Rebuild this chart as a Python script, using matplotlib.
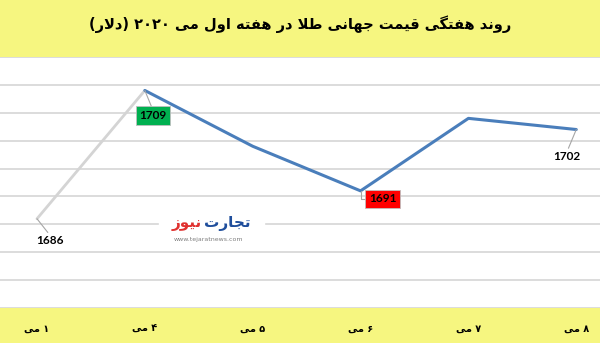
import re
import matplotlib
matplotlib.use("Agg")
import matplotlib.pyplot as plt

# ---- data ----
days = ["۱ می", "۴ می", "۵ می", "۶ می", "۷ می", "۸ می"]
prices = [1686, 1709, 1699, 1691, 1704, 1702]
title = "روند هفتگی قیمت جهانی طلا در هفته اول می ۲۰۲۰ (دلار)"
# label index -> (box colour or None, offset in px)
labels = {0: (None, (13, -22)), 1: ("#00b050", (8, -25)),
          3: ("#ff0000", (22, -8)), 5: (None, (-9, -27))}

YELLOW = "#f6f680"
BLUE = "#4a7ebb"
GREY_LINE = "#d4d4d4"
GRID = "#d9d9d9"

# ---- tiny persian shaper (matplotlib has no bidi / joining) ----
# isolated, final, initial, medial
FORMS = {
    "ا": ("\uFE8D", "\uFE8E", None, None),
    "د": ("\uFEA9", "\uFEAA", None, None),
    "ر": ("\uFEAD", "\uFEAE", None, None),
    "ز": ("\uFEAF", "\uFEB0", None, None),
    "و": ("\uFEED", "\uFEEE", None, None),
    "ن": ("\uFEE5", "\uFEE6", "\uFEE7", "\uFEE8"),
    "ه": ("\uFEE9", "\uFEEA", "\uFEEB", "\uFEEC"),
    "ف": ("\uFED1", "\uFED2", "\uFED3", "\uFED4"),
    "ت": ("\uFE95", "\uFE96", "\uFE97", "\uFE98"),
    "ق": ("\uFED5", "\uFED6", "\uFED7", "\uFED8"),
    "م": ("\uFEE1", "\uFEE2", "\uFEE3", "\uFEE4"),
    "ج": ("\uFE9D", "\uFE9E", "\uFE9F", "\uFEA0"),
    "ط": ("\uFEC1", "\uFEC2", "\uFEC3", "\uFEC4"),
    "ل": ("\uFEDD", "\uFEDE", "\uFEDF", "\uFEE0"),
    "ی": ("\uFBFC", "\uFBFD", "\uFBFE", "\uFBFF"),
    "گ": ("\uFB92", "\uFB93", "\uFB94", "\uFB95"),
}


def dual(c):
    return c in FORMS and FORMS[c][2] is not None


def shape(s):
    out = []
    i = 0
    while i < len(s):
        c = s[i]
        prev = s[i - 1] if i > 0 else ""
        joins_prev = dual(prev)
        if c == "ل" and i + 1 < len(s) and s[i + 1] == "ا":
            out.append("\uFEFC" if joins_prev else "\uFEFB")
            i += 2
            continue
        if c in FORMS:
            nxt = s[i + 1] if i + 1 < len(s) else ""
            joins_next = dual(c) and nxt in FORMS
            iso, fin, ini, med = FORMS[c]
            if joins_prev and joins_next:
                out.append(med)
            elif joins_prev:
                out.append(fin)
            elif joins_next:
                out.append(ini)
            else:
                out.append(iso)
        else:
            out.append(c)
        i += 1
    shaped = "".join(out)
    runs = re.findall(r"[0-9\u06F0-\u06F9]+|.", shaped)
    mirror = {"(": ")", ")": "("}
    return "".join(mirror.get(r, r) for r in reversed(runs))


plt.rcParams["font.family"] = ["DejaVu Sans"]

fig = plt.figure(figsize=(6, 3.43), dpi=100, facecolor=YELLOW)
ax = fig.add_axes([0, 35 / 343, 1, (308 - 57) / 343])
ax.set_facecolor("white")

x = list(range(len(prices)))
ax.set_xlim(-0.343, 5.22)
ax.set_ylim(1670, 1715)
ax.set_yticks(range(1670, 1716, 5))
ax.yaxis.grid(True, color=GRID, lw=1.3)
ax.set_axisbelow(True)
ax.tick_params(axis="y", left=False, labelleft=False)
for sp in ax.spines.values():
    sp.set_visible(False)

ax.plot(x[:2], prices[:2], color=GREY_LINE, lw=2, solid_capstyle="round")
ax.plot(x[1:], prices[1:], color=BLUE, lw=2.2, solid_capstyle="round")

ax.set_xticks(x)
ax.set_xticklabels([shape(d) for d in days], fontsize=7, fontweight="bold")
ax.tick_params(axis="x", length=0, pad=11)

for i, (fc, off) in labels.items():
    conn = "angle,angleA=0,angleB=90,rad=0" if i == 3 else "arc3"
    bbox = None
    rel = (0.5, 1.0)
    if fc is not None:
        bbox = dict(boxstyle="square,pad=0.3", fc=fc, ec="#bfbfbf", lw=0.6)
        rel = (0.0, 0.5) if i == 3 else (0.5, 1.0)
    ax.annotate(str(prices[i]), (x[i], prices[i]), xytext=off,
                textcoords="offset pixels", ha="center", va="center",
                fontsize=8.5, fontweight="bold", family="Lato", color="black",
                bbox=bbox,
                arrowprops=dict(arrowstyle="-", color="#a6a6a6", lw=0.8,
                                shrinkA=0, shrinkB=0, relpos=rel,
                                connectionstyle=conn))

# title
fig.text(0.5, 1 - 24 / 343, shape(title), ha="center", va="center",
         fontsize=10.5, fontweight="bold", color="black")

# watermark logo
ax.axhspan(1683.5, 1686.5, xmin=0.265, xmax=0.44, color="white", zorder=1.5)
ax.text(0.379, 0.335, shape("تجارت"), transform=ax.transAxes, ha="center",
        va="center", fontsize=11, fontweight="bold", color="#1f4e9c")
ax.text(0.311, 0.335, shape("نیوز"), transform=ax.transAxes, ha="center",
        va="center", fontsize=11, fontweight="bold", color="#e0312f")
ax.text(0.348, 0.272, "www.tejaratnews.com", transform=ax.transAxes,
        ha="center", va="center", fontsize=4.5, color="#7f7f7f")

fig.savefig("out.png", dpi=100, facecolor=YELLOW)
